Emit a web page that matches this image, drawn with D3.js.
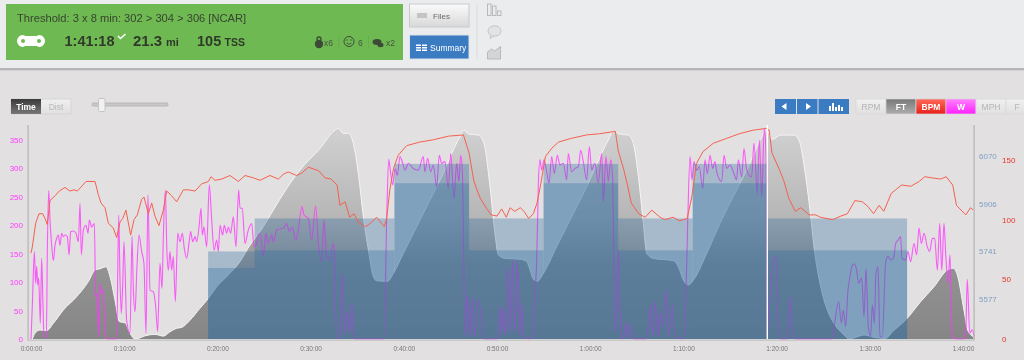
<!DOCTYPE html>
<html>
<head>
<meta charset="utf-8">
<script src="https://cdn.jsdelivr.net/npm/d3@7"></script>
<style>
  html, body { margin: 0; padding: 0; background: #e2e0e0; overflow: hidden; }
  svg { display: block; font-family: "Liberation Sans", Arial, sans-serif; filter: blur(0.3px); }
</style>
</head>
<body>
<svg id="chart" width="1024" height="360"></svg>
<script>
// values, time in minutes
const hrTime = [0,0.14,0.5,0.86,1.25,1.5,1.75,2.04,2.58,3.04,3.65,4.18,4.61,4.97,5.44,5.9,6.87,7.22,7.51,7.94,8.3,8.83,9.19,9.55,9.84,10.19,10.69,11.05,11.41,11.87,12.12,12.59,12.95,13.3,13.73,14.2,14.56,15.09,15.63,16.35,16.88,17.6,18.31,19.03,19.31,19.74,20.46,21.35,22.25,22.96,23.86,24.57,25.64,26.54,27.07,27.6,28.5,29.04,29.76,30.86,31.54,32.2,32.85,33.14,33.7,34.2,34.66,35.1,35.9,36.4,37.1,37.9,38.16,38.5,38.9,39.4,40.3,41.7,43.2,44.8,46.4,47,47.5,47.8,48.2,48.9,49.4,50,50.5,51,51.4,51.9,52.5,52.9,53.4,53.9,54.3,54.7,55.2,55.9,56.6,57.9,59.6,61,62.7,63,63.6,64,64.4,65.2,65.9,66.6,67.5,68,68.9,69.6,70.4,70.9,71.4,72.1,73.2,74.6,76,77.5,78.9,79.2,79.5,80.3,80.8,81.3,82,82.6,83.5,84.2,84.7,86,86.9,87.6,88.4,89.2,89.8,90.4,91,91.5,92.3,93.4,94.4,95.3,95.9,96.7,97.6,98.2,98.9,99.3,100.3,100.8,101.1];
const hrValues = [72,77,97,105,105,101,96,116,120,124,127,124,125,124,128,132,132,121,114,110,97,93,85,98,101,108,87,100,104,117,119,105,114,103,95,108,124,120,115,125,125,124,130,132,136,133,134,137,132,137,135,133,137,134,138,140,137,139,144,141,135,134,129,112,115,102,105,98,94,97,102,94,101,125,143,154,162,165,167,170,171,156,133,126,118,109,104,103,109,102,110,107,110,107,101,105,114,130,153,160,165,168,171,172,174,158,142,129,114,105,102,108,102,100,102,99,101,119,147,157,164,168,172,175,176.5,175,156,142,132,118,107,110,104,104,102,100,103,105,116,115,111,105,112,107,122,129,128,132,136,135,134,136,129,112,104,110,108];

const elevTime = [0.14,0.43,0.97,1.68,2.4,3.47,4.9,6.15,6.87,7.4,8.05,8.48,9.01,9.48,10.09,10.62,11.16,11.52,12.23,13.3,14.2,14.91,15.63,16.17,17.06,18.13,19.03,19.92,20.99,22.43,23.5,24.57,26,27.43,28.86,31,32.62,32.97,33.51,34.05,34.59,35.12,35.66,36.2,36.73,37.09,38.27,38.88,39.95,41.38,43.17,44.24,45.14,46.03,46.46,46.92,48,48.6,49.25,49.78,50.14,50.86,52.47,53.18,53.54,53.9,54.33,54.97,56.4,57.83,59.62,61.05,61.84,62.48,63.2,64.09,64.63,65.17,65.7,66.06,66.77,68.92,69.46,70,70.53,71.07,72.5,73.93,75.71,77.14,78.22,78.94,79.54,80.44,81.87,82.4,83.12,83.66,84.01,84.73,85.44,86.16,87.23,87.77,88.66,89.38,90.45,91.7,92.43,93.92,95.46,96.89,98.32,98.97,99.39,100.1,100.5,101.1];
const elevValues = [5439,5459,5470,5468,5493,5539,5585,5637,5677,5681,5688,5654,5573,5499,5495,5459,5439,5441,5450,5455,5449,5464,5476,5479,5504,5545,5579,5619,5654,5706,5763,5809,5884,5958,6022,6096,6159,6165,6148,6148,6113,6010,5861,5746,5654,5640,5638,5665,5734,5826,5941,6010,6079,6136,6159,6146,6142,6113,5964,5803,5729,5717,5714,5706,5677,5645,5638,5665,5757,5849,5964,6067,6119,6154,6146,6142,6113,5999,5838,5734,5717,5709,5688,5642,5625,5642,5734,5838,5953,6045,6125,6159,6127,6142,6142,6125,5999,5861,5757,5619,5539,5493,5453,5439,5447,5453,5445,5441,5464,5507,5568,5619,5677,5683,5660,5539,5470,5447];

const powerTime = [0,0.14,0.36,0.5,0.61,0.72,0.82,1,1.14,1.29,1.39,1.65,1.75,1.9,2.04,2.15,2.25,2.4,2.58,2.75,2.93,3.11,3.29,3.47,3.65,3.9,4.08,4.26,4.54,4.83,5.08,5.26,5.4,5.62,5.9,6.12,6.26,6.51,6.8,6.94,7.08,7.26,7.4,7.58,7.76,7.98,8.19,9.19,9.41,9.55,9.69,9.84,9.98,10.26,10.62,10.84,10.98,11.16,11.37,11.59,11.87,12.12,12.34,12.55,12.77,13.13,13.38,13.59,13.84,14.06,14.2,14.41,14.59,14.74,14.91,15.09,15.27,15.49,15.74,15.99,16.24,16.45,16.7,16.99,17.13,17.35,17.6,17.78,18.03,18.24,18.38,18.56,18.85,19.13,19.39,19.64,19.92,20.1,20.28,20.56,20.74,20.99,21.17,21.42,21.71,21.99,22.28,22.43,22.67,22.96,23.32,23.68,23.93,24.21,24.39,
  24.57,24.93,25.21,25.46,25.82,26,26.36,27.07,27.43,27.72,28.04,28.4,28.68,29.08,29.29,29.76,30.11,30.54,30.83,31.19,31.44,31.72,32.15,32.37,32.51,32.65,32.94,33.19,33.41,33.69,33.94,34.16,34.44,34.69,37.88,38.16,38.38,38.59,38.81,39.06,39.31,39.59,39.88,40.13,40.49,41.02,41.56,42.09,42.27,42.56,42.88,43.17,43.52,43.81,44.06,44.42,44.78,45.03,45.39,45.67,45.92,46.1,46.28,46.46,46.64,46.82,47.1,47.39,47.64,48,48.25,48.6,50.04,50.33,50.5,50.68,50.89,51.14,51.39,51.68,51.93,52.18,52.47,
  52.65,52.9,53.36,53.83,54.08,54.26,54.44,54.61,54.79,55.05,55.33,55.58,55.87,56.15,56.47,56.76,57.12,57.48,57.65,58.01,58.37,58.73,58.98,59.26,59.62,59.91,60.16,60.51,60.87,61.23,61.41,61.69,61.95,62.2,62.41,62.59,62.73,63.02,63.31,63.56,63.84,64.09,64.34,64.63,65.99,66.24,66.49,66.71,66.99,67.28,67.49,67.78,68.14,68.39,68.64,68.85,69.1,70,70.24,70.46,70.71,70.92,71.14,71.42,71.71,72.07,72.32,72.57,72.86,73.14,73.39,73.57,74.11,74.36,74.64,75,75.36,75.71,75.89,76.25,76.5,76.79,77.32,77.57,77.93,78.15,78.4,78.68,78.86,78.97,
  79.29,79.54,79.94,80.15,80.44,81.15,81.3,81.51,81.73,82.05,85.98,86.23,86.66,86.95,87.16,87.41,87.66,87.88,88.13,88.38,88.59,88.81,89.13,89.38,89.59,89.84,90.09,90.27,90.49,90.66,90.88,91.09,91.35,91.71,91.96,92.24,92.53,92.78,93.03,93.31,93.45,93.85,94.1,94.38,94.74,95.03,95.28,95.53,95.82,96.17,96.42,96.71,96.96,97.25,97.5,97.72,97.96,98.14,98.39,98.6,98.85,99.21,100.1,100.29,100.46,100.72,101,101.2];
const powerValues = [0,57,154,98,128,95,107,28,142,57,4,4,151,261,209,180,159,138,165,177,183,165,186,180,183,180,148,189,190,186,171,238,148,192,200,186,209,197,203,74,80,4,98,80,86,10,0,0,218,104,45,95,171,33,10,180,89,48,127,183,154,133,10,253,86,83,57,13,133,89,180,262,151,121,154,121,145,66,186,171,186,159,142,174,189,171,180,171,197,230,183,197,162,271,209,156,174,154,200,183,200,186,197,186,215,162,262,230,230,168,192,203,162,168,183,
  186,145,186,168,183,171,192,195,203,189,197,174,192,233,218,212,174,234,168,136,209,145,139,168,162,57,0,4,115,10,48,10,63,0,0,209,316,291,271,300,288,321,309,297,309,300,297,321,294,318,294,306,268,323,309,312,265,326,247,309,277,323,297,104,4,77,4,74,4,69,51,0,0,57,10,54,4,127,10,139,10,139,4,
  63,4,0,4,80,139,274,315,297,315,294,274,321,291,323,306,309,280,326,294,300,303,332,312,280,338,297,309,274,326,241,321,277,315,280,57,13,156,10,0,30,0,25,0,0,19,60,4,66,4,45,22,86,4,39,60,4,0,57,203,321,280,312,297,303,265,315,291,323,300,312,294,277,323,300,306,294,280,315,285,335,297,285,344,256,350,250,370,326,0,
  74,127,145,22,0,0,57,74,4,0,0,28,66,28,51,22,86,110,130,132,121,98,107,39,124,22,4,60,28,115,127,4,4,136,145,139,142,168,174,180,142,139,154,136,168,148,195,168,186,162,154,177,177,121,203,121,203,151,98,148,4,0,0,10,105,10,16,4];

// planned steps of the workout: start, end (min), target top and bottom (W)
const stepStart = [19, 24, 39, 47, 55, 63, 71, 79];
const stepEnd = [24, 39, 47, 55, 63, 71, 79, 94];
const stepHigh = [154, 212, 308, 212, 308, 212, 308, 212];
const stepLow = [125, 156, 274, 156, 274, 156, 274, 156];

const wattTicks = [0, 50, 100, 150, 200, 250, 300, 350];
const elevTicks = [5577, 5741, 5906, 6070];
const hrTicks = [0, 50, 100, 150];
const timeTicks = [0, 10, 20, 30, 40, 50, 60, 70, 80, 90, 100];
const timeLabels = ["0:00:00", "0:10:00", "0:20:00", "0:30:00", "0:40:00", "0:50:00", "1:00:00", "1:10:00", "1:20:00", "1:30:00", "1:40:00"];
const channels = ["RPM", "FT", "BPM", "W", "MPH", "F"];
const markerTime = 79;

const svg = d3.select("#chart");
const defs = svg.append("defs");

function gradient(id, stops, units) {
  const g = defs.append("linearGradient").attr("id", id)
    .attr("x1", 0).attr("x2", 0).attr("y1", 0).attr("y2", 1);
  if (units) {
    g.attr("gradientUnits", "userSpaceOnUse").attr("y1", units[0]).attr("y2", units[1]);
  }
  stops.forEach(s => g.append("stop").attr("offset", s[0]).attr("stop-color", s[1]));
}
gradient("elevFill", [[0, "#d0d0d0"], [0.42, "#b6b6b6"], [0.65, "#939393"], [1, "#868686"]], [130, 339]);
gradient("btnLight", [[0, "#fbfbfb"], [1, "#d8d8d8"]]);
gradient("btnPale", [[0, "#f0f0f0"], [1, "#e0e0e0"]]);
gradient("btnDark", [[0, "#3a3a3a"], [1, "#777777"]]);
gradient("btnFt", [[0, "#777777"], [1, "#adadad"]]);
gradient("btnBpm", [[0, "#ff6a5a"], [1, "#e8201a"]]);
gradient("btnW", [[0, "#ff80ff"], [1, "#ff20ff"]]);

function rect(g, x, y, w, h, fill) {
  return g.append("rect").attr("x", x).attr("y", y).attr("width", w).attr("height", h).attr("fill", fill);
}
function label(g, x, y, str, size, color, weight) {
  return g.append("text").attr("x", x).attr("y", y).text(str)
    .style("font-size", size + "px").style("font-weight", weight || "normal").attr("fill", color);
}

// header
const head = svg.append("g");
rect(head, 0, 0, 1024, 68, "#ebecee");
rect(head, 0, 68, 1024, 2, "#b4b4b4");
rect(head, 0, 70, 1024, 1, "#d2d1d1");
rect(head, 6, 4, 397, 56, "#6fb952");

const ink = "#2f3a2b";
label(head, 17, 22, "Threshold: 3 x 8 min: 302 > 304 > 306 [NCAR]", 11.15, "#37442f");
label(head, 64.5, 46, "1:41:18", 14.5, ink, "bold");
label(head, 133, 46, "21.3", 15, ink, "bold");
label(head, 166, 46, "mi", 11, ink, "bold");
label(head, 197, 46, "105", 14.5, ink, "bold");
label(head, 224.5, 46, "TSS", 10.5, ink, "bold");
head.append("path").attr("d", "M118 36l2.5 2.5 5-4.5").attr("fill", "none").attr("stroke", "#fff").attr("stroke-width", 1.6);

// chain link
rect(head, 17, 36, 28, 10, "#fff").attr("rx", 5);
rect(head, 17.5, 35, 10, 12, "#fff").attr("rx", 6);
rect(head, 34.5, 35, 10, 12, "#fff").attr("rx", 6);
[23, 39].forEach(cx => head.append("circle").attr("cx", cx).attr("cy", 41).attr("r", 2).attr("fill", "#6fb952"));

// small badges at the right of the green box
head.append("circle").attr("cx", 319).attr("cy", 44).attr("r", 4.2).attr("fill", "#3c4a36");
head.append("circle").attr("cx", 319).attr("cy", 39).attr("r", 2).attr("fill", "none").attr("stroke", "#3c4a36").attr("stroke-width", 1.3);
label(head, 324, 46, "x6", 8.5, "#46553f");
rect(head, 338.5, 36, 0.7, 13, "#64a84a");
head.append("circle").attr("cx", 349).attr("cy", 41.5).attr("r", 5).attr("fill", "none").attr("stroke", "#3c4a36");
[347, 351].forEach(cx => head.append("circle").attr("cx", cx).attr("cy", 40).attr("r", 0.7).attr("fill", "#3c4a36"));
head.append("path").attr("d", "M346.5 43q2.5 2.5 5 0").attr("fill", "none").attr("stroke", "#3c4a36").attr("stroke-width", 0.8);
label(head, 358, 46, "6", 8.5, "#46553f");
rect(head, 368, 36, 0.7, 13, "#64a84a");
head.append("ellipse").attr("cx", 377).attr("cy", 42).attr("rx", 4.5).attr("ry", 3).attr("fill", "#3c4a36");
head.append("ellipse").attr("cx", 380.5).attr("cy", 45).attr("rx", 3).attr("ry", 2.2).attr("fill", "#3c4a36");
label(head, 386, 46, "x2", 8.5, "#46553f");

// Files / Summary buttons
rect(head, 409.5, 4, 59.5, 23, "url(#btnLight)").attr("stroke", "#c9c9c9");
rect(head, 417, 13, 10, 5, "#c4c4c4");
label(head, 433, 19, "Files", 8, "#6a6a6a");
rect(head, 409.5, 35, 59.5, 24, "#3b7bc2").attr("stroke", "#dfe3e8");
[44.5, 47, 49.5].forEach(y => {
  rect(head, 416, y, 5, 1.5, "#fff");
  rect(head, 422, y, 5, 1.5, "#fff");
});
label(head, 430, 51, "Summary", 8.5, "#fff");
rect(head, 476.5, 4, 1, 55, "#dcdcdc");

// side icons
[[487.5, 4, 3.5, 11.5], [492.5, 6, 3.5, 9.5], [497.5, 11, 3.5, 4.5]].forEach(b =>
  rect(head, b[0], b[1], b[2], b[3], "none").attr("stroke", "#b9b9b9"));
head.append("ellipse").attr("cx", 494.5).attr("cy", 31).attr("rx", 6.5).attr("ry", 5.2).attr("fill", "#e2e3e4").attr("stroke", "#c6c6c6");
head.append("path").attr("d", "M490.5 35l-0.5 3.5 4-2.5").attr("fill", "#e2e3e4").attr("stroke", "#c6c6c6");
head.append("path").attr("d", "M487.5 59v-7l4-3 3 2 6-4.5v12.5z").attr("fill", "#d5d5d5").attr("stroke", "#b9b9b9");

// controls above the plot
const ctrl = svg.append("g");
rect(ctrl, 11, 99, 60, 15, "url(#btnPale)").attr("stroke", "#d5d5d5");
rect(ctrl, 11, 99, 30, 15, "url(#btnDark)");
label(ctrl, 26, 109.5, "Time", 8.5, "#fff", "bold").attr("text-anchor", "middle");
label(ctrl, 56, 109.5, "Dist", 8.5, "#b9b9b9").attr("text-anchor", "middle");
rect(ctrl, 92, 103, 76, 3, "#c9c9c9").attr("stroke", "#a5a5a5").attr("stroke-width", 0.6).attr("rx", 1);
rect(ctrl, 98.5, 98.5, 6.5, 13, "#f1f1f1").attr("stroke", "#c4c4c4").attr("rx", 1);

rect(ctrl, 775, 99, 74, 15, "#3b7bc2");
[796, 817.5].forEach(x => rect(ctrl, x, 99, 1, 15, "#dfe3e8"));
ctrl.append("path").attr("d", "M781.5 106.5l5-3.5v7z").attr("fill", "#fff");
ctrl.append("path").attr("d", "M811 106.5l-5-3.5v7z").attr("fill", "#fff");
[[829, 5], [832, 8], [835, 4], [838, 6], [841, 4]].forEach(b => rect(ctrl, b[0], 111 - b[1], 2, b[1], "#fff"));

const channelFill = { FT: "url(#btnFt)", BPM: "url(#btnBpm)", W: "url(#btnW)" };
channels.forEach((name, i) => {
  const x = 856 + i * 30;
  rect(ctrl, x, 99, 30, 15, channelFill[name] || "url(#btnPale)").attr("stroke", "#d8d8d8").attr("stroke-width", 0.7);
  label(ctrl, i === 5 ? x + 11 : x + 15, 109.5, name, 8.5, channelFill[name] ? "#fff" : "#b4b4b4", channelFill[name] ? "bold" : "normal")
    .attr("text-anchor", "middle");
});

// scales
const x = d3.scaleLinear().domain([0, 100]).range([31, 963]);
const yWatt = d3.scaleLinear().domain([0, 350]).range([339, 140]);
const yElev = d3.scaleLinear().domain([5577, 6070]).range([299, 156]);
const yHr = d3.scaleLinear().domain([0, 150]).range([339, 160]);

const plot = svg.append("g");

// elevation
const elevData = elevTime.map((t, i) => ({ t: t, v: elevValues[i] }));
plot.append("path").datum(elevData)
  .attr("fill", "url(#elevFill)")
  .attr("d", d3.area().x(d => x(d.t)).y0(yWatt(0)).y1(d => yElev(d.v)).curve(d3.curveMonotoneX));
plot.append("path").datum(elevData)
  .attr("fill", "none").attr("stroke", "#f4f4f4").attr("stroke-width", 1)
  .attr("d", d3.line().x(d => x(d.t)).y(d => yElev(d.v)).curve(d3.curveMonotoneX));

// power
const powerData = powerTime.map((t, i) => ({ t: t, v: powerValues[i] }));
plot.append("path").datum(powerData)
  .attr("fill", "none").attr("stroke", "#ff38ff").attr("stroke-width", 1.1).attr("stroke-opacity", 0.8)
  .attr("stroke-linejoin", "round")
  .attr("d", d3.line().x(d => x(d.t)).y(d => yWatt(d.v)).curve(d3.curveMonotoneX));

// workout steps, two layers so the lower part reads darker
stepStart.forEach((s, i) => {
  [stepHigh[i], stepLow[i]].forEach(top => {
    plot.append("rect")
      .attr("x", x(s)).attr("width", x(stepEnd[i]) - x(s))
      .attr("y", yWatt(top)).attr("height", yWatt(0) - yWatt(top))
      .attr("fill", "rgb(50,110,160)").attr("fill-opacity", 0.33);
  });
});

// heart rate
const hrData = hrTime.map((t, i) => ({ t: t, v: hrValues[i] }));
plot.append("path").datum(hrData)
  .attr("fill", "none").attr("stroke", "#f4604f").attr("stroke-width", 1)
  .attr("d", d3.line().x(d => x(d.t)).y(d => yHr(d.v)));

// current position marker
plot.append("line").attr("x1", x(markerTime)).attr("x2", x(markerTime)).attr("y1", 125).attr("y2", 339)
  .attr("stroke", "#fff").attr("stroke-width", 1.4);

// axes
function styleAxis(g, color) {
  g.select(".domain").remove();
  g.selectAll(".tick line").remove();
  g.selectAll("text").attr("fill", color).style("font-size", "8px").style("font-family", '"Liberation Sans", Arial, sans-serif');
}
svg.append("g").attr("transform", "translate(23,0)")
  .call(d3.axisLeft(yWatt).tickValues(wattTicks).tickSize(0).tickPadding(0))
  .call(g => styleAxis(g, "#ff3cff"));
svg.append("g").attr("transform", "translate(979,0)")
  .call(d3.axisRight(yElev).tickValues(elevTicks).tickSize(0).tickPadding(0).tickFormat(d3.format("d")))
  .call(g => styleAxis(g, "#7f9fc4"));
svg.append("g").attr("transform", "translate(1002,0)")
  .call(d3.axisRight(yHr).tickValues(hrTicks).tickSize(0).tickPadding(0))
  .call(g => styleAxis(g, "#e8362c"));
svg.append("g").attr("transform", "translate(0,344)")
  .call(d3.axisBottom(x).tickValues(timeTicks).tickSize(0).tickPadding(2).tickFormat((d, i) => timeLabels[i]))
  .call(g => styleAxis(g, "#777"))
  .call(g => g.selectAll("text").style("font-size", "6.5px"));

rect(svg, 27.5, 125, 1.2, 215, "#b4b4b4");
rect(svg, 973.5, 125, 1.2, 215, "#b4b4b4");
rect(svg, 27.5, 339.5, 947, 1.4, "#c6c6c6");
</script>
</body>
</html>
